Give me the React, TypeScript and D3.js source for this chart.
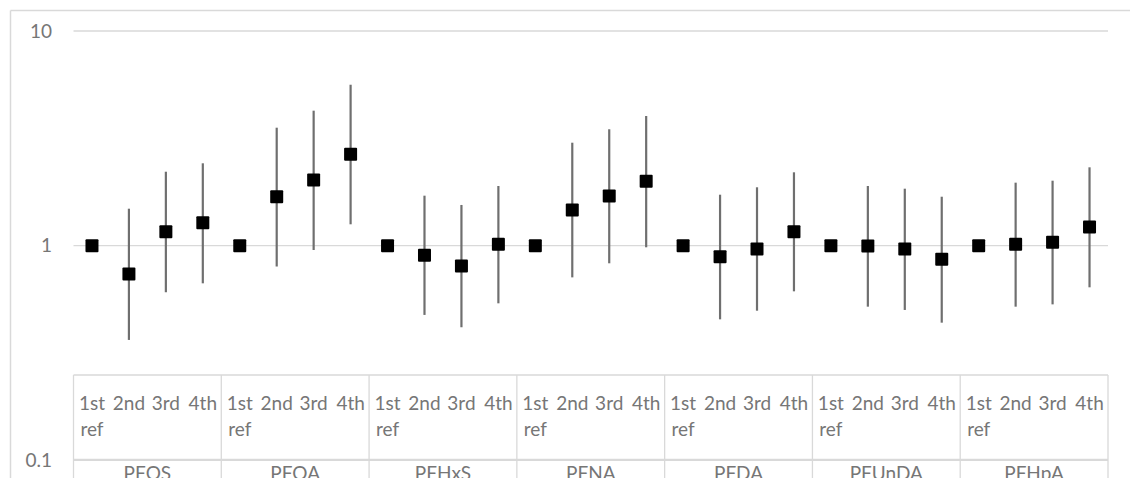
import React from "react";
import * as d3 from "d3";

const groups = ["PFOS", "PFOA", "PFHxS", "PFNA", "PFDA", "PFUnDA", "PFHpA"];
const quartiles = ["1st ref", "2nd", "3rd", "4th"];

// point estimates per group (1st, 2nd, 3rd, 4th)
const estimates = [
  [1.0, 0.738, 1.162, 1.28],
  [1.0, 1.691, 2.023, 2.666],
  [1.0, 0.902, 0.804, 1.015],
  [1.0, 1.466, 1.704, 1.995],
  [1.0, 0.889, 0.965, 1.162],
  [1.0, 0.996, 0.965, 0.864],
  [1.0, 1.015, 1.037, 1.222],
];
const lowerCI = [
  [null, 0.364, 0.607, 0.668],
  [null, 0.8, 0.955, 1.258],
  [null, 0.476, 0.417, 0.539],
  [null, 0.712, 0.828, 0.983],
  [null, 0.454, 0.498, 0.613],
  [null, 0.52, 0.502, 0.438],
  [null, 0.52, 0.533, 0.64],
];
const upperCI = [
  [null, 1.487, 2.211, 2.42],
  [null, 3.545, 4.255, 5.62],
  [null, 1.71, 1.548, 1.897],
  [null, 3.018, 3.486, 4.02],
  [null, 1.728, 1.871, 2.197],
  [null, 1.897, 1.843, 1.691],
  [null, 1.966, 2.008, 2.318],
];
const yTicks = [0.1, 1, 10];

const W = 1130;
const H = 478;
const left = 73.5;
const right = 1108;
const tableTop = 375;
const font = "Lato, 'Open Sans', sans-serif";
const textColor = "#767676";
const gridColor = "#d9d9d9";

export default function App() {
  const y = d3.scaleLog().domain([0.1, 10]).range([460.4, 31]);
  const xg = d3.scaleBand().domain(groups).range([left, right]).padding(0);
  const xq = d3.scaleBand().domain(quartiles).range([0, xg.bandwidth()]).padding(0);
  const sq = 13;

  return (
    <svg
      width={W}
      height={H}
      style={{ position: "absolute", left: 0, top: 0, background: "#fff" }}
    >
      {/* outer frame */}
      <line x1={10.5} y1={10.5} x2={W} y2={10.5} stroke={gridColor} strokeWidth={1.5} />
      <line x1={10.5} y1={10.5} x2={10.5} y2={H} stroke={gridColor} strokeWidth={1.5} />

      {/* gridlines */}
      {yTicks.map((t) => (
        <g key={t}>
          <line x1={left} x2={right} y1={y(t)} y2={y(t)} stroke={gridColor} strokeWidth={1.3} />
          <text
            x={52}
            y={y(t)}
            dy="0.35em"
            textAnchor="end"
            fontFamily={font}
            fontSize={19}
            fill={textColor}
          >
            {t}
          </text>
        </g>
      ))}

      {/* category table */}
      <line x1={left} x2={right} y1={tableTop} y2={tableTop} stroke={gridColor} strokeWidth={1.3} />
      <line x1={left} x2={right} y1={459.5} y2={459.5} stroke={gridColor} strokeWidth={1.3} />
      {[...groups.map((g) => xg(g)!), right].map((xv, i) => (
        <line key={i} x1={xv} x2={xv} y1={tableTop} y2={H} stroke={gridColor} strokeWidth={1.3} />
      ))}
      {groups.map((g) => (
        <g key={g}>
          {quartiles.map((q) => {
            const cx = xg(g)! + xq(q)! + xq.bandwidth() / 2;
            const parts = q.split(" ");
            return (
              <text key={q} fontFamily={font} fontSize={19} fill={textColor} textAnchor="middle">
                {parts.map((p, k) => (
                  <tspan key={k} x={cx} y={410 + k * 26}>
                    {p}
                  </tspan>
                ))}
              </text>
            );
          })}
          <text
            x={xg(g)! + xg.bandwidth() / 2}
            y={480}
            textAnchor="middle"
            fontFamily={font}
            fontSize={19}
            fill={textColor}
          >
            {g}
          </text>
        </g>
      ))}

      {/* error bars and markers */}
      {groups.map((g, gi) => (
        <g key={g}>
          {quartiles.map((q, qi) => {
            const cx = xg(g)! + xq(q)! + xq.bandwidth() / 2;
            const lo = lowerCI[gi][qi];
            const hi = upperCI[gi][qi];
            const v = estimates[gi][qi];
            return (
              <g key={q}>
                {lo != null && hi != null && (
                  <line x1={cx} x2={cx} y1={y(lo)} y2={y(hi)} stroke="#6f6f6f" strokeWidth={2.2} />
                )}
                <rect
                  x={cx - sq / 2}
                  y={y(v) - sq / 2}
                  width={sq}
                  height={sq}
                  rx={1}
                  fill="#000"
                />
              </g>
            );
          })}
        </g>
      ))}
    </svg>
  );
}
